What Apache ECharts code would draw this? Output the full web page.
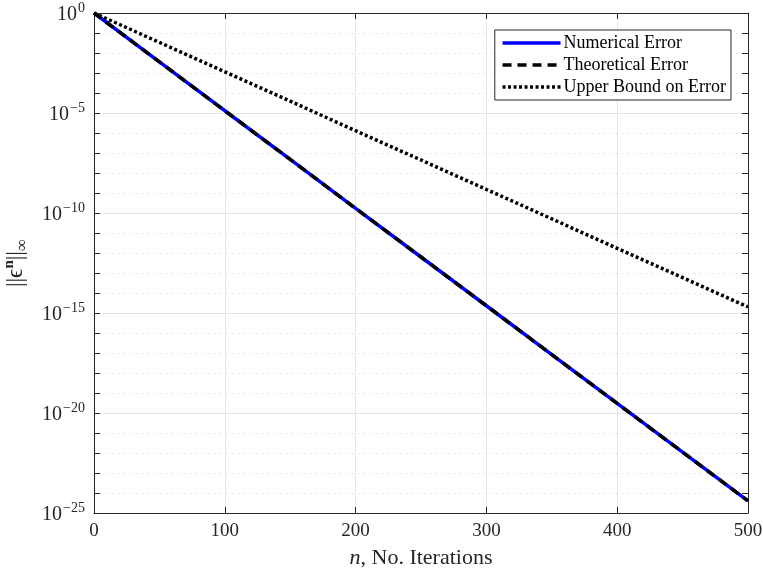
<!DOCTYPE html>
<html><head><meta charset="utf-8">
<script src="https://cdn.jsdelivr.net/npm/echarts@6/dist/echarts.min.js"></script>
<style>html,body{margin:0;padding:0;background:#fff}#c{width:763px;height:578px}</style>
</head><body><div id="c"></div>
<script>
const iterations = [0, 50, 100, 150, 200, 250, 300, 350, 400, 450, 500];
const numericalError = [1, 3.6e-3, 1.3e-5, 4.8e-8, 1.7e-10, 6.3e-13, 2.3e-15, 8.3e-18, 3.0e-20, 1.1e-22, 4.0e-25];
const theoreticalError = [1, 3.6e-3, 1.3e-5, 4.8e-8, 1.7e-10, 6.3e-13, 2.3e-15, 8.3e-18, 3.0e-20, 1.1e-22, 4.0e-25];
const upperBound = [1, 3.4e-2, 1.15e-3, 3.9e-5, 1.3e-6, 4.5e-8, 1.5e-9, 5.1e-11, 1.7e-12, 5.9e-14, 2.0e-15];
const xTicks = [0, 100, 200, 300, 400, 500];
const yTickExponents = [0, -5, -10, -15, -20, -25];

const FONT = "'Liberation Serif', 'DejaVu Serif', serif";
const AX = '#262626';
const chart = echarts.init(document.getElementById('c'), null, {renderer: 'canvas'});

// The library's log axis rounds a min of 1e-25 to 0 in this build, so the series are
// plotted on a value axis of log10(error), labelled as powers of ten.
function pairs(ys) { return iterations.map((x, i) => [x, Math.log10(ys[i])]); }

function yLabel(v) {
  const e = Math.round(v);
  if (yTickExponents.indexOf(e) < 0) return '';
  const s = e === 0 ? '0' : '\u2212' + Math.abs(e);
  return '{b|10}{s|' + s + '}';
}

const yMin = yTickExponents[yTickExponents.length - 1];
const yMax = yTickExponents[0];

const option = {
  animation: false,
  backgroundColor: '#fff',
  grid: {left: 94, right: 15, top: 13, bottom: 65, show: false, containLabel: false, outerBoundsMode: 'none'},
  xAxis: [
    {type: 'value', min: xTicks[0], max: xTicks[xTicks.length - 1], interval: 100, position: 'bottom',
     axisLine: {show: true, onZero: false, lineStyle: {color: AX, width: 1}},
     axisTick: {show: true, inside: true, length: 6, lineStyle: {color: AX}},
     axisLabel: {color: '#262626', fontFamily: FONT, fontSize: 19, margin: 9},
     splitLine: {show: true, lineStyle: {color: '#e6e6e6', width: 1}},
     name: '{i|n}{t|, No. Iterations}', nameLocation: 'middle', nameGap: 34,
     nameTextStyle: {rich: {i: {fontFamily: FONT, fontStyle: 'italic', fontSize: 22, color: '#262626'},
                            t: {fontFamily: FONT, fontSize: 22, color: '#262626'}}}},
    {type: 'value', min: xTicks[0], max: xTicks[xTicks.length - 1], interval: 100, position: 'top',
     axisLine: {show: true, onZero: false, lineStyle: {color: AX, width: 1}},
     axisTick: {show: true, inside: true, length: 6, lineStyle: {color: AX}},
     axisLabel: {show: false}, splitLine: {show: false}}
  ],
  yAxis: [
    {type: 'value', min: yMin, max: yMax, interval: 5, position: 'left',
      axisLine: {show: true, onZero: false, lineStyle: {color: AX, width: 1}},
      axisTick: {show: true, inside: true, length: 6, lineStyle: {color: AX}},
      minorTick: {show: true, splitNumber: 5, length: 6, lineStyle: {color: AX}},
      minorSplitLine: {show: true, lineStyle: {color: '#d2d2d2', width: 1, type: [1, 5]}},
      axisLabel: {formatter: yLabel, margin: 9, rich: {
        b: {fontFamily: FONT, fontSize: 20, color: '#262626', lineHeight: 24, verticalAlign: 'bottom'},
        s: {fontFamily: FONT, fontSize: 14, color: '#262626', lineHeight: 24, verticalAlign: 'top', padding: [0, 0, 0, 1]}}},
      splitLine: {show: true, lineStyle: {color: '#e3e3e3', width: 1}},
      name: '{a|||\u03f5}{n|n}{a|||}{inf|\u221e}', nameLocation: 'middle', nameRotate: 90, nameGap: 60,
      nameTextStyle: {rich: {
        a: {fontFamily: FONT, fontSize: 23, color: '#262626', lineHeight: 30, verticalAlign: 'middle'},
        n: {fontFamily: FONT, fontSize: 15, fontWeight: 'bold', color: '#262626', lineHeight: 30, verticalAlign: 'top'},
        inf: {fontFamily: FONT, fontSize: 17, color: '#262626', lineHeight: 30, verticalAlign: 'bottom'}}}},
    {type: 'value', min: yMin, max: yMax, interval: 5, position: 'right',
      axisLine: {show: true, onZero: false, lineStyle: {color: AX, width: 1}}, axisLabel: {show: false},
      axisTick: {show: true, inside: true, length: 6, lineStyle: {color: AX}},
      minorTick: {show: true, splitNumber: 5, length: 6, lineStyle: {color: AX}},
      splitLine: {show: false}}
  ],
  legend: {
    right: 32, top: 30, orient: 'vertical', itemGap: 4, itemWidth: 58, itemHeight: 18,
    padding: [4, 5, 4, 6], borderColor: '#262626', borderWidth: 1, backgroundColor: '#fff',
    textStyle: {fontFamily: FONT, fontSize: 18, color: '#000', padding: [0, 14, 0, -2]},
    itemStyle: {color: 'rgba(0,0,0,0)', borderWidth: 0, opacity: 0},
    lineStyle: {width: 3.5},
    data: ['Numerical Error', 'Theoretical Error', 'Upper Bound on Error']
  },
  series: [
    {name: 'Numerical Error', type: 'line', xAxisIndex: 0, yAxisIndex: 0, data: pairs(numericalError),
     symbol: 'none', lineStyle: {color: '#0000ff', width: 3.5}, itemStyle: {color: '#0000ff'}, z: 3},
    {name: 'Theoretical Error', type: 'line', xAxisIndex: 0, yAxisIndex: 0, data: pairs(theoreticalError),
     symbol: 'none', lineStyle: {color: '#000', width: 3.5, type: [9, 6]}, itemStyle: {color: '#000'}, z: 4},
    {name: 'Upper Bound on Error', type: 'line', xAxisIndex: 0, yAxisIndex: 0, data: pairs(upperBound),
     symbol: 'none', lineStyle: {color: '#000', width: 3.5, type: [3, 2.5]}, itemStyle: {color: '#000'}, z: 4}
  ]
};
chart.setOption(option);
</script></body></html>
